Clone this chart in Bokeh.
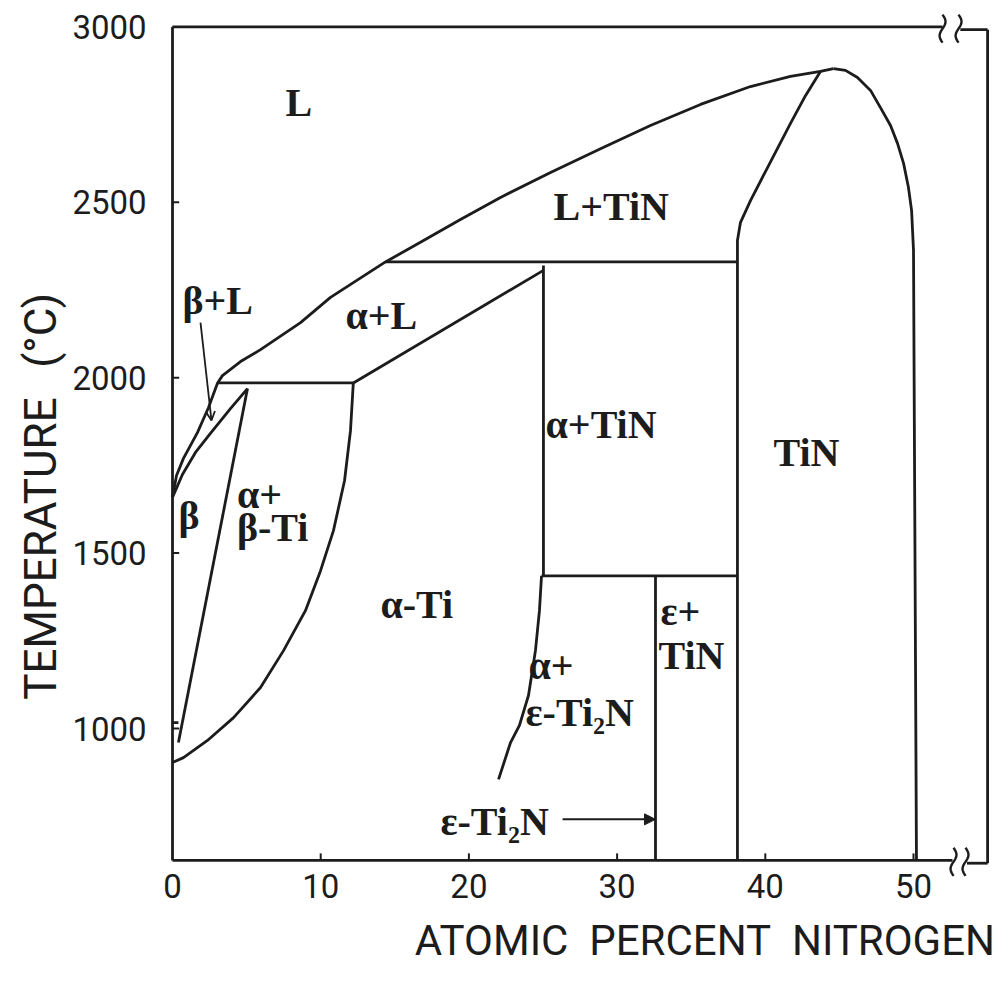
import numpy as np
from bokeh.plotting import figure
from bokeh.models import Arrow, NormalHead, OpenHead, ColumnDataSource
from bokeh.embed import file_html
from bokeh.resources import INLINE
from bokeh.core.properties import value

# ---------------- data (atomic % N, temperature in deg C) ----------------
x_ticks = [0, 10, 20, 30, 40, 50]
t_ticks = [1000, 1500, 2000, 2500, 3000]

# liquidus: Ti melting point -> TiN congruent maximum
liq_x = [0.0, 0.27, 0.74, 1.69, 2.43, 3.04, 3.37, 4.59, 5.94, 8.64, 10.66, 14.37,
         16.94, 19.43, 22.13, 25.51, 28.88, 32.25, 35.63, 39.00, 41.70, 43.72, 44.60]
liq_t = [1659, 1721, 1770, 1844, 1915, 1985, 2006, 2046, 2080, 2157, 2229, 2330,
         2391, 2451, 2514, 2585, 2653, 2719, 2779, 2830, 2859, 2873, 2881]
# TiN right (N-rich) boundary
tinr_x = [44.60, 45.41, 46.22, 47.10, 47.77, 48.45, 48.92, 49.33, 49.66, 49.87, 50.0, 50.2]
tinr_t = [2881, 2876, 2856, 2819, 2770, 2719, 2668, 2611, 2542, 2477, 2363, 624]
# TiN left (Ti-rich) boundary
tinl_x = [43.72, 42.71, 41.70, 40.15, 39.00, 38.32, 38.12, 38.12]
tinl_t = [2873, 2804, 2725, 2599, 2505, 2442, 2391, 624]
# beta solidus
bsol_x = [0.0, 0.67, 1.55, 2.56, 3.91, 5.06]
bsol_t = [1659, 1724, 1787, 1841, 1912, 1969]
# beta transus
btr_x = [5.06, 0.40]
btr_t = [1969, 960]
# alpha transus
atr_x = [12.2, 12.01, 11.61, 10.86, 9.99, 8.97, 7.49, 5.94, 4.12, 2.36, 0.74, 0.0]
atr_t = [1985, 1849, 1707, 1564, 1450, 1336, 1222, 1117, 1031, 966, 917, 903]
# alpha solidus (alpha / alpha+L)
asol_x = [12.2, 25.03]
asol_t = [1985, 2306]
# alpha / alpha+eps-Ti2N solvus
ae_x = [24.90, 24.76, 24.49, 24.02, 23.41, 22.81, 22.0]
ae_t = [1435, 1336, 1222, 1094, 1009, 960, 855]
# isotherms (invariant lines)
iso_x0 = [3.04, 14.37, 24.90, 0.0]
iso_x1 = [12.2, 38.12, 38.12, 0.4]
iso_t = [1985, 2330, 1435, 1017]
# vertical phase boundaries
vert_x = [25.03, 32.59]
vert_t0 = [2320, 1435]
vert_t1 = [1435, 624]

# frame with axis breaks
t_top, t_bot = 3000, 624
x_left, x_right = 0.0, 55.0
top_breaks = [51.96, 53.04]
bot_breaks = [52.70, 53.51]

# phase labels
lab_text = ["L", "L+TiN", "β+L", "α+L", "α+TiN", "TiN", "β", "α+", "β-Ti", "α-Ti",
            "α+", "ε-Ti₂N", "ε+", "TiN", "ε-Ti₂N"]
lab_x = [7.62, 25.71, 0.67, 11.67, 25.17, 40.55, 0.40, 4.35, 4.35, 14.03,
         24.02, 23.82, 32.93, 32.79, 18.08]
lab_t = [2784, 2488, 2220, 2177, 1867, 1787, 1607, 1667, 1573, 1353,
         1180, 1045, 1334, 1208, 735]

# arrows: eps-Ti2N pointer and beta+L leader
arr_eps = dict(x0=26.32, t0=741, x1=32.59, t1=741)
arr_bl = dict(x0=1.89, t0=2157, x1=2.63, t1=1878)

# axis titles
NB2 = "\u00a0\u00a0"
x_title = "ATOMIC" + NB2 + "PERCENT" + NB2 + "NITROGEN"
y_title = ["TEMPERATURE", "(°C)"]

# ---------------- figure ----------------
INK = "#1c1c1c"
LW = 2.8
AXFONT = "Roboto"

p = figure(width=1000, height=975, x_range=(-11.606, 55.870), y_range=(295.9, 3075.3),
           output_backend="svg", toolbar_location=None,
           x_axis_location=None, y_axis_location=None,
           min_border=0, min_border_left=0, min_border_right=0,
           min_border_top=0, min_border_bottom=0,
           outline_line_color=None, background_fill_color="white", border_fill_color="white")
p.grid.visible = False

# frame lines
p.line([x_left, x_left], [t_bot, t_top], line_width=LW, color=INK)
p.line([x_left, top_breaks[0]], [t_top, t_top], line_width=LW, color=INK)
p.line([top_breaks[1] + 0.12, x_right], [t_top - 8, t_top - 8], line_width=LW, color=INK)
p.line([x_left, bot_breaks[0] - 0.07], [t_bot, t_bot], line_width=LW, color=INK)
p.line([bot_breaks[1] + 0.1, x_right], [t_bot - 8, t_bot - 8], line_width=LW, color=INK)
p.line([x_right, x_right], [t_bot - 8, t_top - 8], line_width=LW, color=INK)

# break squiggles
s = np.linspace(-1, 1, 21)
for xb in top_breaks:
    p.line(xb + 0.2 * np.sin(np.pi * s), t_top - 5 + 40 * s, line_width=2.4, color=INK)
for xb in bot_breaks:
    p.line(xb + 0.2 * np.sin(np.pi * s), t_bot - 4 + 40 * s, line_width=2.4, color=INK)

# inward ticks
p.segment(x0=x_ticks[1:], y0=[t_bot] * 5, x1=x_ticks[1:], y1=[t_bot + 20] * 5, line_width=2, color=INK)
p.segment(x0=[x_left] * 5, y0=t_ticks, x1=[x_left + 0.45] * 5, y1=t_ticks, line_width=2, color=INK)

# tick labels
p.text(x=x_ticks, y=[552] * len(x_ticks), text=[str(v) for v in x_ticks],
       text_font=value(AXFONT), text_font_size="33px", text_color=INK,
       text_align="center", text_baseline="middle")
p.text(x=[-1.75] * len(t_ticks), y=t_ticks, text=[str(v) for v in t_ticks],
       text_font=value(AXFONT), text_font_size="33px", text_color=INK,
       text_align="right", text_baseline="middle")

# axis titles
p.text(x=[55.50], y=[395], text=[x_title], text_font=value(AXFONT), text_font_size="42px",
       text_color=INK, text_align="right", text_baseline="middle")
p.text(x=[-8.84, -8.84], y=[1513, 2135], text=y_title, angle=np.pi / 2,
       text_font=value(AXFONT), text_font_size="44px", text_color=INK,
       text_align="center", text_baseline="middle")

# phase boundaries
for xs, ts in [(liq_x, liq_t), (tinr_x, tinr_t), (tinl_x, tinl_t), (bsol_x, bsol_t),
               (btr_x, btr_t), (atr_x, atr_t), (asol_x, asol_t), (ae_x, ae_t)]:
    p.line(xs, ts, line_width=LW, color=INK, line_join="round")

p.segment(x0=iso_x0, y0=iso_t, x1=iso_x1, y1=iso_t, line_width=LW, color=INK)
p.segment(x0=vert_x, y0=vert_t0, x1=vert_x, y1=vert_t1, line_width=LW, color=INK)

# arrows
p.add_layout(Arrow(x_start=arr_eps["x0"], y_start=arr_eps["t0"], x_end=arr_eps["x1"], y_end=arr_eps["t1"],
                   line_width=2, line_color=INK,
                   end=NormalHead(size=11, line_color=INK, fill_color=INK, line_width=1)))
p.add_layout(Arrow(x_start=arr_bl["x0"], y_start=arr_bl["t0"], x_end=arr_bl["x1"], y_end=arr_bl["t1"],
                   line_width=1.8, line_color=INK,
                   end=OpenHead(size=9, line_color=INK, line_width=1.8)))

# phase labels
src = ColumnDataSource(dict(x=lab_x, y=lab_t, text=lab_text))
p.text(x="x", y="y", text="text", source=src, text_font=value("Liberation Serif"),
       text_font_style="bold", text_font_size="40px", text_color=INK,
       text_align="left", text_baseline="middle")

open("out.html", "w").write(file_html(p, INLINE))
